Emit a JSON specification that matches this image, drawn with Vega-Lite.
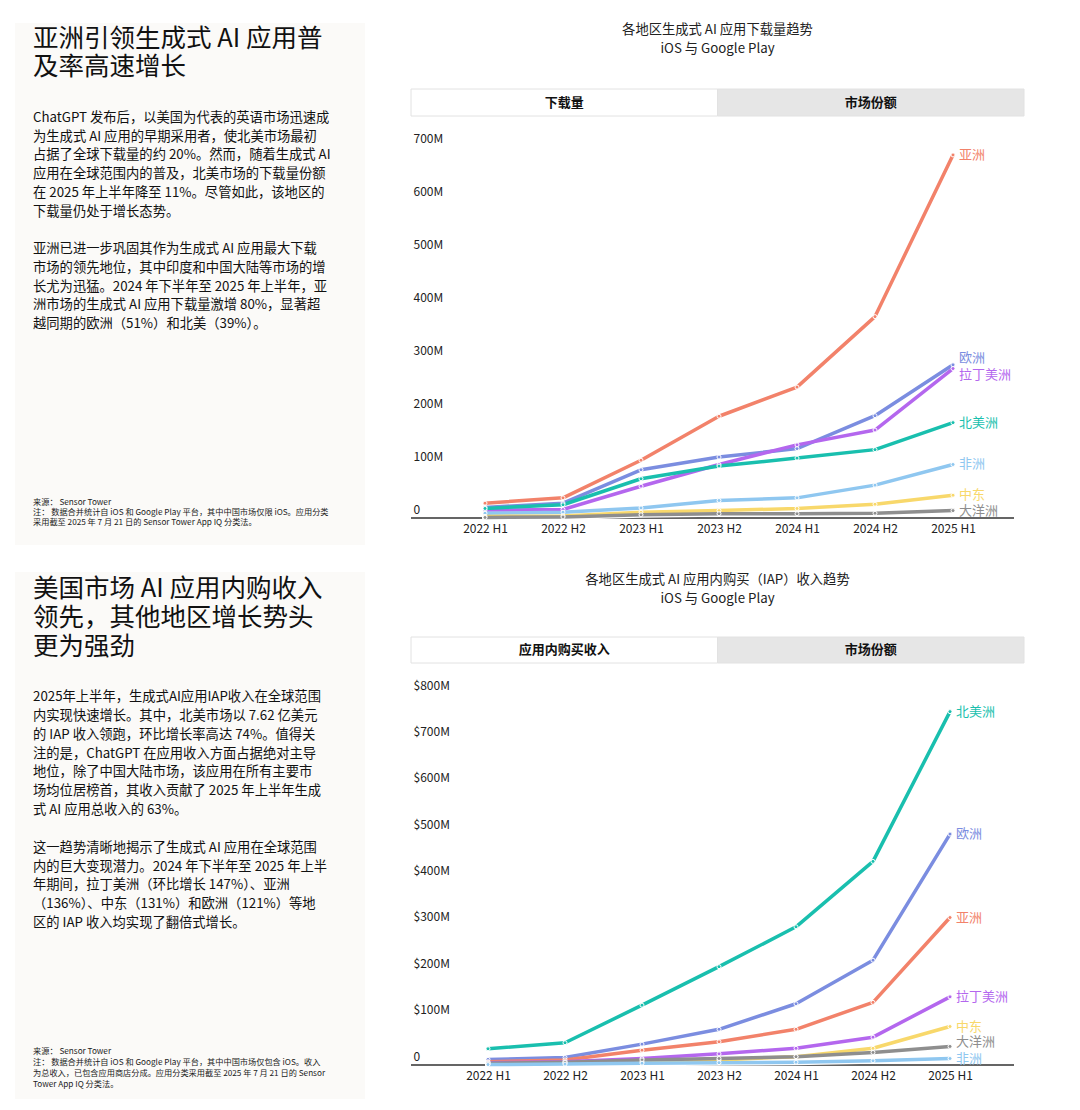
{
  "$schema": "https://vega.github.io/schema/vega-lite/v6.json",
  "background": "white",
  "padding": {"left": 15, "top": 23, "right": 0, "bottom": 0},
  "spacing": 27,
  "config": {
    "font": "Noto Sans CJK SC",
    "view": {"stroke": null},
    "axis": {"labelFont": "Noto Sans CJK SC"}
  },
  "datasets": {
    "downloads": [
      {"period": "2022 H1", "region": "亚洲", "downloads": 28},
      {"period": "2022 H2", "region": "亚洲", "downloads": 38},
      {"period": "2023 H1", "region": "亚洲", "downloads": 109},
      {"period": "2023 H2", "region": "亚洲", "downloads": 192},
      {"period": "2024 H1", "region": "亚洲", "downloads": 247},
      {"period": "2024 H2", "region": "亚洲", "downloads": 380},
      {"period": "2025 H1", "region": "亚洲", "downloads": 685},
      {"period": "2022 H1", "region": "欧洲", "downloads": 20},
      {"period": "2022 H2", "region": "欧洲", "downloads": 28},
      {"period": "2023 H1", "region": "欧洲", "downloads": 91},
      {"period": "2023 H2", "region": "欧洲", "downloads": 115},
      {"period": "2024 H1", "region": "欧洲", "downloads": 131},
      {"period": "2024 H2", "region": "欧洲", "downloads": 193},
      {"period": "2025 H1", "region": "欧洲", "downloads": 289},
      {"period": "2022 H1", "region": "拉丁美洲", "downloads": 15},
      {"period": "2022 H2", "region": "拉丁美洲", "downloads": 16},
      {"period": "2023 H1", "region": "拉丁美洲", "downloads": 60},
      {"period": "2023 H2", "region": "拉丁美洲", "downloads": 101},
      {"period": "2024 H1", "region": "拉丁美洲", "downloads": 138},
      {"period": "2024 H2", "region": "拉丁美洲", "downloads": 166},
      {"period": "2025 H1", "region": "拉丁美洲", "downloads": 282},
      {"period": "2022 H1", "region": "北美洲", "downloads": 18},
      {"period": "2022 H2", "region": "北美洲", "downloads": 25},
      {"period": "2023 H1", "region": "北美洲", "downloads": 74},
      {"period": "2023 H2", "region": "北美洲", "downloads": 98},
      {"period": "2024 H1", "region": "北美洲", "downloads": 113},
      {"period": "2024 H2", "region": "北美洲", "downloads": 129},
      {"period": "2025 H1", "region": "北美洲", "downloads": 180},
      {"period": "2022 H1", "region": "非洲", "downloads": 9},
      {"period": "2022 H2", "region": "非洲", "downloads": 11},
      {"period": "2023 H1", "region": "非洲", "downloads": 19},
      {"period": "2023 H2", "region": "非洲", "downloads": 33},
      {"period": "2024 H1", "region": "非洲", "downloads": 38},
      {"period": "2024 H2", "region": "非洲", "downloads": 62},
      {"period": "2025 H1", "region": "非洲", "downloads": 101},
      {"period": "2022 H1", "region": "中东", "downloads": 3},
      {"period": "2022 H2", "region": "中东", "downloads": 4},
      {"period": "2023 H1", "region": "中东", "downloads": 11},
      {"period": "2023 H2", "region": "中东", "downloads": 14},
      {"period": "2024 H1", "region": "中东", "downloads": 18},
      {"period": "2024 H2", "region": "中东", "downloads": 26},
      {"period": "2025 H1", "region": "中东", "downloads": 43},
      {"period": "2022 H1", "region": "大洋洲", "downloads": 1},
      {"period": "2022 H2", "region": "大洋洲", "downloads": 2},
      {"period": "2023 H1", "region": "大洋洲", "downloads": 6},
      {"period": "2023 H2", "region": "大洋洲", "downloads": 8},
      {"period": "2024 H1", "region": "大洋洲", "downloads": 8},
      {"period": "2024 H2", "region": "大洋洲", "downloads": 9},
      {"period": "2025 H1", "region": "大洋洲", "downloads": 14}
    ],
    "iap": [
      {"period": "2022 H1", "region": "北美洲", "revenue": 35},
      {"period": "2022 H2", "region": "北美洲", "revenue": 48},
      {"period": "2023 H1", "region": "北美洲", "revenue": 129},
      {"period": "2023 H2", "region": "北美洲", "revenue": 212},
      {"period": "2024 H1", "region": "北美洲", "revenue": 298},
      {"period": "2024 H2", "region": "北美洲", "revenue": 439},
      {"period": "2025 H1", "region": "北美洲", "revenue": 762},
      {"period": "2022 H1", "region": "欧洲", "revenue": 12},
      {"period": "2022 H2", "region": "欧洲", "revenue": 16},
      {"period": "2023 H1", "region": "欧洲", "revenue": 45},
      {"period": "2023 H2", "region": "欧洲", "revenue": 77},
      {"period": "2024 H1", "region": "欧洲", "revenue": 132},
      {"period": "2024 H2", "region": "欧洲", "revenue": 226},
      {"period": "2025 H1", "region": "欧洲", "revenue": 498},
      {"period": "2022 H1", "region": "亚洲", "revenue": 7},
      {"period": "2022 H2", "region": "亚洲", "revenue": 11},
      {"period": "2023 H1", "region": "亚洲", "revenue": 32},
      {"period": "2023 H2", "region": "亚洲", "revenue": 50},
      {"period": "2024 H1", "region": "亚洲", "revenue": 77},
      {"period": "2024 H2", "region": "亚洲", "revenue": 135},
      {"period": "2025 H1", "region": "亚洲", "revenue": 318},
      {"period": "2022 H1", "region": "拉丁美洲", "revenue": 5},
      {"period": "2022 H2", "region": "拉丁美洲", "revenue": 7},
      {"period": "2023 H1", "region": "拉丁美洲", "revenue": 14},
      {"period": "2023 H2", "region": "拉丁美洲", "revenue": 24},
      {"period": "2024 H1", "region": "拉丁美洲", "revenue": 36},
      {"period": "2024 H2", "region": "拉丁美洲", "revenue": 60},
      {"period": "2025 H1", "region": "拉丁美洲", "revenue": 147},
      {"period": "2022 H1", "region": "中东", "revenue": 2},
      {"period": "2022 H2", "region": "中东", "revenue": 4},
      {"period": "2023 H1", "region": "中东", "revenue": 7},
      {"period": "2023 H2", "region": "中东", "revenue": 11},
      {"period": "2024 H1", "region": "中东", "revenue": 18},
      {"period": "2024 H2", "region": "中东", "revenue": 36},
      {"period": "2025 H1", "region": "中东", "revenue": 83},
      {"period": "2022 H1", "region": "大洋洲", "revenue": 4},
      {"period": "2022 H2", "region": "大洋洲", "revenue": 6},
      {"period": "2023 H1", "region": "大洋洲", "revenue": 11},
      {"period": "2023 H2", "region": "大洋洲", "revenue": 14},
      {"period": "2024 H1", "region": "大洋洲", "revenue": 18},
      {"period": "2024 H2", "region": "大洋洲", "revenue": 27},
      {"period": "2025 H1", "region": "大洋洲", "revenue": 40},
      {"period": "2022 H1", "region": "非洲", "revenue": 1},
      {"period": "2022 H2", "region": "非洲", "revenue": 2},
      {"period": "2023 H1", "region": "非洲", "revenue": 4},
      {"period": "2023 H2", "region": "非洲", "revenue": 5},
      {"period": "2024 H1", "region": "非洲", "revenue": 6},
      {"period": "2024 H2", "region": "非洲", "revenue": 9},
      {"period": "2025 H1", "region": "非洲", "revenue": 14}
    ],
    "intro_downloads": [
      {"part": "heading", "line": 1, "text": "亚洲引领生成式 AI 应用普"},
      {"part": "heading", "line": 2, "text": "及率高速增长"},
      {"part": "body", "line": 1, "text": "ChatGPT 发布后，以美国为代表的英语市场迅速成"},
      {"part": "body", "line": 2, "text": "为生成式 AI 应用的早期采用者，使北美市场最初"},
      {"part": "body", "line": 3, "text": "占据了全球下载量的约 20%。然而，随着生成式 AI"},
      {"part": "body", "line": 4, "text": "应用在全球范围内的普及，北美市场的下载量份额"},
      {"part": "body", "line": 5, "text": "在 2025 年上半年降至 11%。尽管如此，该地区的"},
      {"part": "body", "line": 6, "text": "下载量仍处于增长态势。"},
      {"part": "body", "line": 8, "text": "亚洲已进一步巩固其作为生成式 AI 应用最大下载"},
      {"part": "body", "line": 9, "text": "市场的领先地位，其中印度和中国大陆等市场的增"},
      {"part": "body", "line": 10, "text": "长尤为迅猛。2024 年下半年至 2025 年上半年，亚"},
      {"part": "body", "line": 11, "text": "洲市场的生成式 AI 应用下载量激增 80%，显著超"},
      {"part": "body", "line": 12, "text": "越同期的欧洲（51%）和北美（39%）。"},
      {"part": "note", "line": 1, "text": "来源： Sensor Tower"},
      {"part": "note", "line": 2, "text": "注： 数据合并统计自 iOS 和 Google Play 平台，其中中国市场仅限 iOS。应用分类"},
      {"part": "note", "line": 3, "text": "采用截至 2025 年 7 月 21 日的 Sensor Tower App IQ 分类法。"}
    ],
    "intro_iap": [
      {"part": "heading", "line": 1, "text": "美国市场 AI 应用内购收入"},
      {"part": "heading", "line": 2, "text": "领先，其他地区增长势头"},
      {"part": "heading", "line": 3, "text": "更为强劲"},
      {"part": "body", "line": 1, "text": "2025年上半年，生成式AI应用IAP收入在全球范围"},
      {"part": "body", "line": 2, "text": "内实现快速增长。其中，北美市场以 7.62 亿美元"},
      {"part": "body", "line": 3, "text": "的 IAP 收入领跑，环比增长率高达 74%。值得关"},
      {"part": "body", "line": 4, "text": "注的是，ChatGPT 在应用收入方面占据绝对主导"},
      {"part": "body", "line": 5, "text": "地位，除了中国大陆市场，该应用在所有主要市"},
      {"part": "body", "line": 6, "text": "场均位居榜首，其收入贡献了 2025 年上半年生成"},
      {"part": "body", "line": 7, "text": "式 AI 应用总收入的 63%。"},
      {"part": "body", "line": 9, "text": "这一趋势清晰地揭示了生成式 AI 应用在全球范围"},
      {"part": "body", "line": 10, "text": "内的巨大变现潜力。2024 年下半年至 2025 年上半"},
      {"part": "body", "line": 11, "text": "年期间，拉丁美洲（环比增长 147%）、亚洲"},
      {"part": "body", "line": 12, "text": "（136%）、中东（131%）和欧洲（121%）等地"},
      {"part": "body", "line": 13, "text": "区的 IAP 收入均实现了翻倍式增长。"},
      {"part": "note", "line": 1, "text": "来源： Sensor Tower"},
      {"part": "note", "line": 2, "text": "注： 数据合并统计自 iOS 和 Google Play 平台，其中中国市场仅包含 iOS。收入"},
      {"part": "note", "line": 3, "text": "为总收入，已包含应用商店分成。应用分类采用截至 2025 年 7 月 21 日的 Sensor"},
      {"part": "note", "line": 4, "text": "Tower App IQ 分类法。"}
    ]
  },
  "vconcat": [
    {
      "spacing": 45,
      "hconcat": [
        {
          "width": 350,
          "height": 522,
          "view": {"fill": "#fbfaf8", "stroke": null},
          "data": {"name": "intro_downloads"},
          "encoding": {
            "x": {"datum": 0, "type": "quantitative", "scale": {"domain": [0, 1], "range": [18, 350]}, "axis": null},
            "text": {"field": "text", "type": "nominal"}
          },
          "layer": [
            {
              "transform": [{"filter": "datum.part == 'heading'"}],
              "mark": {"type": "text", "align": "left", "baseline": "middle", "fontSize": 25.5, "color": "#111"},
              "encoding": {"y": {"field": "line", "type": "quantitative", "scale": {"domain": [1, 2], "range": [16, 44]}, "axis": null}}
            },
            {
              "transform": [{"filter": "datum.part == 'body'"}],
              "mark": {"type": "text", "align": "left", "baseline": "middle", "fontSize": 13.3, "color": "#111"},
              "encoding": {"y": {"field": "line", "type": "quantitative", "scale": {"domain": [1, 12], "range": [95, 301]}, "axis": null}}
            },
            {
              "transform": [{"filter": "datum.part == 'note'"}],
              "mark": {"type": "text", "align": "left", "baseline": "middle", "fontSize": 8.2, "color": "#222"},
              "encoding": {"y": {"field": "line", "type": "quantitative", "scale": {"domain": [1, 3], "range": [480, 500]}, "axis": null}}
            }
          ],
          "resolve": {"scale": {"y": "independent"}}
        },
        {
          "spacing": 15,
          "vconcat": [
            {
              "width": 613,
              "height": 50,
              "data": {"values": [{"line": 1, "text": "各地区生成式 AI 应用下载量趋势"}, {"line": 2, "text": "iOS 与 Google Play"}]},
              "mark": {"type": "text", "align": "center", "baseline": "middle", "fontSize": 13.3, "color": "#222"},
              "encoding": {
                "x": {"datum": 0.5, "type": "quantitative", "scale": {"domain": [0, 1]}, "axis": null},
                "y": {"field": "line", "type": "quantitative", "scale": {"domain": [1, 2], "range": [7, 26]}, "axis": null},
                "text": {"field": "text", "type": "nominal"}
              }
            },
            {
              "width": 613,
              "height": 27,
              "data": {"values": [{"tab": "下载量", "active": true}, {"tab": "市场份额", "active": false}]},
              "encoding": {
                "x": {"field": "tab", "type": "nominal", "sort": null, "scale": {"type": "band", "paddingInner": 0, "paddingOuter": 0}, "axis": null}
              },
              "layer": [
                {
                  "mark": {"type": "rect", "stroke": "#e2e2e2", "strokeWidth": 1},
                  "encoding": {"fill": {"condition": {"test": "datum.active", "value": "#ffffff"}, "value": "#e6e6e6"}}
                },
                {
                  "mark": {"type": "text", "fontSize": 13, "fontWeight": "bold", "color": "#111"},
                  "encoding": {"text": {"field": "tab", "type": "nominal"}}
                }
              ]
            },
            {
              "width": 603,
              "height": 371,
              "data": {"name": "downloads"},
              "layer": [
                {
                  "mark": {"type": "rule", "color": "#666666", "strokeWidth": 1.5},
                  "encoding": {"y": {"datum": 0, "type": "quantitative"}}
                },
                {
                  "encoding": {
                    "x": {
                      "field": "period", "type": "ordinal",
                      "scale": {"type": "point", "padding": 0, "range": [74, 542]},
                      "axis": {"title": null, "domain": false, "ticks": false, "grid": false, "labelAngle": 0, "labelPadding": 5, "labelFontSize": 12, "labelColor": "#222"}
                    },
                    "y": {
                      "field": "downloads", "type": "quantitative",
                      "scale": {"domain": [0, 700], "nice": false},
                      "axis": {
                        "title": null, "domain": false, "ticks": false,
                        "values": [0, 100, 200, 300, 400, 500, 600, 700],
                        "gridColor": "#ececec", "gridWidth": 1,
                        "labelAlign": "left", "labelBaseline": "bottom", "labelPadding": -2, "labelOffset": -2,
                        "labelFlush": false, "labelFontSize": 12, "labelColor": "#222",
                        "labelExpr": "datum.value == 0 ? '0' : datum.value + 'M'"
                      }
                    },
                    "color": {
                      "field": "region", "type": "nominal",
                      "scale": {
                        "domain": ["亚洲", "欧洲", "拉丁美洲", "北美洲", "非洲", "中东", "大洋洲"],
                        "range": ["#f2826a", "#7b8de0", "#b467ee", "#19bfae", "#8fc7f0", "#f8d86b", "#8e8e8e"]
                      },
                      "legend": null
                    }
                  },
                  "layer": [
                    {
                      "mark": {"type": "line", "strokeWidth": 6, "strokeCap": "round", "strokeJoin": "round"},
                      "encoding": {"color": {"value": "#ffffff"}, "detail": {"field": "region", "type": "nominal"}}
                    },
                    {
                      "mark": {"type": "line", "strokeWidth": 3.5, "strokeCap": "round", "strokeJoin": "round"}
                    },
                    {
                      "mark": {"type": "point", "filled": true, "size": 16, "stroke": "#ffffff", "strokeWidth": 1, "opacity": 1}
                    },
                    {
                      "transform": [{"filter": "datum.period == '2025 H1' && datum.region != '欧洲' && datum.region != '拉丁美洲'"}],
                      "mark": {"type": "text", "align": "left", "baseline": "middle", "dx": 6, "fontSize": 13},
                      "encoding": {"text": {"field": "region", "type": "nominal"}}
                    },
                    {
                      "transform": [{"filter": "datum.period == '2025 H1' && datum.region == '欧洲'"}],
                      "mark": {"type": "text", "align": "left", "baseline": "middle", "dx": 6, "dy": -7, "fontSize": 13},
                      "encoding": {"text": {"field": "region", "type": "nominal"}}
                    },
                    {
                      "transform": [{"filter": "datum.period == '2025 H1' && datum.region == '拉丁美洲'"}],
                      "mark": {"type": "text", "align": "left", "baseline": "middle", "dx": 6, "dy": 6, "fontSize": 13},
                      "encoding": {"text": {"field": "region", "type": "nominal"}}
                    }
                  ]
                }
              ]
            }
          ]
        }
      ]
    },
    {
      "spacing": 45,
      "hconcat": [
        {
          "width": 350,
          "height": 527,
          "view": {"fill": "#fbfaf8", "stroke": null},
          "data": {"name": "intro_iap"},
          "encoding": {
            "x": {"datum": 0, "type": "quantitative", "scale": {"domain": [0, 1], "range": [18, 350]}, "axis": null},
            "text": {"field": "text", "type": "nominal"}
          },
          "layer": [
            {
              "transform": [{"filter": "datum.part == 'heading'"}],
              "mark": {"type": "text", "align": "left", "baseline": "middle", "fontSize": 25.5, "color": "#111"},
              "encoding": {"y": {"field": "line", "type": "quantitative", "scale": {"domain": [1, 3], "range": [17, 75]}, "axis": null}}
            },
            {
              "transform": [{"filter": "datum.part == 'body'"}],
              "mark": {"type": "text", "align": "left", "baseline": "middle", "fontSize": 13.3, "color": "#111"},
              "encoding": {"y": {"field": "line", "type": "quantitative", "scale": {"domain": [1, 13], "range": [125, 351]}, "axis": null}}
            },
            {
              "transform": [{"filter": "datum.part == 'note'"}],
              "mark": {"type": "text", "align": "left", "baseline": "middle", "fontSize": 8.2, "color": "#222"},
              "encoding": {"y": {"field": "line", "type": "quantitative", "scale": {"domain": [1, 4], "range": [480, 513]}, "axis": null}}
            }
          ],
          "resolve": {"scale": {"y": "independent"}}
        },
        {
          "spacing": 15,
          "vconcat": [
            {
              "width": 613,
              "height": 49,
              "data": {"values": [{"line": 1, "text": "各地区生成式 AI 应用内购买（IAP）收入趋势"}, {"line": 2, "text": "iOS 与 Google Play"}]},
              "mark": {"type": "text", "align": "center", "baseline": "middle", "fontSize": 13.3, "color": "#222"},
              "encoding": {
                "x": {"datum": 0.5, "type": "quantitative", "scale": {"domain": [0, 1]}, "axis": null},
                "y": {"field": "line", "type": "quantitative", "scale": {"domain": [1, 2], "range": [8, 27]}, "axis": null},
                "text": {"field": "text", "type": "nominal"}
              }
            },
            {
              "width": 613,
              "height": 26,
              "data": {"values": [{"tab": "应用内购买收入", "active": true}, {"tab": "市场份额", "active": false}]},
              "encoding": {
                "x": {"field": "tab", "type": "nominal", "sort": null, "scale": {"type": "band", "paddingInner": 0, "paddingOuter": 0}, "axis": null}
              },
              "layer": [
                {
                  "mark": {"type": "rect", "stroke": "#e2e2e2", "strokeWidth": 1},
                  "encoding": {"fill": {"condition": {"test": "datum.active", "value": "#ffffff"}, "value": "#e6e6e6"}}
                },
                {
                  "mark": {"type": "text", "fontSize": 13, "fontWeight": "bold", "color": "#111"},
                  "encoding": {"text": {"field": "tab", "type": "nominal"}}
                }
              ]
            },
            {
              "width": 603,
              "height": 371,
              "data": {"name": "iap"},
              "layer": [
                {
                  "mark": {"type": "rule", "color": "#666666", "strokeWidth": 1.5},
                  "encoding": {"y": {"datum": 0, "type": "quantitative"}}
                },
                {
                  "encoding": {
                    "x": {
                      "field": "period", "type": "ordinal",
                      "scale": {"type": "point", "padding": 0, "range": [77, 539]},
                      "axis": {"title": null, "domain": false, "ticks": false, "grid": false, "labelAngle": 0, "labelPadding": 5, "labelFontSize": 12, "labelColor": "#222"}
                    },
                    "y": {
                      "field": "revenue", "type": "quantitative",
                      "scale": {"domain": [0, 800], "nice": false},
                      "axis": {
                        "title": null, "domain": false, "ticks": false,
                        "values": [0, 100, 200, 300, 400, 500, 600, 700, 800],
                        "gridColor": "#ececec", "gridWidth": 1,
                        "labelAlign": "left", "labelBaseline": "bottom", "labelPadding": -2, "labelOffset": -2,
                        "labelFlush": false, "labelFontSize": 12, "labelColor": "#222",
                        "labelExpr": "datum.value == 0 ? '0' : '$' + datum.value + 'M'"
                      }
                    },
                    "color": {
                      "field": "region", "type": "nominal",
                      "scale": {
                        "domain": ["北美洲", "欧洲", "亚洲", "拉丁美洲", "中东", "大洋洲", "非洲"],
                        "range": ["#19bfae", "#7b8de0", "#f2826a", "#b467ee", "#f8d86b", "#8e8e8e", "#8fc7f0"]
                      },
                      "legend": null
                    }
                  },
                  "layer": [
                    {
                      "mark": {"type": "line", "strokeWidth": 6, "strokeCap": "round", "strokeJoin": "round"},
                      "encoding": {"color": {"value": "#ffffff"}, "detail": {"field": "region", "type": "nominal"}}
                    },
                    {
                      "mark": {"type": "line", "strokeWidth": 3.5, "strokeCap": "round", "strokeJoin": "round"}
                    },
                    {
                      "mark": {"type": "point", "filled": true, "size": 16, "stroke": "#ffffff", "strokeWidth": 1, "opacity": 1}
                    },
                    {
                      "transform": [{"filter": "datum.period == '2025 H1' && datum.region != '大洋洲'"}],
                      "mark": {"type": "text", "align": "left", "baseline": "middle", "dx": 6, "fontSize": 13},
                      "encoding": {"text": {"field": "region", "type": "nominal"}}
                    },
                    {
                      "transform": [{"filter": "datum.period == '2025 H1' && datum.region == '大洋洲'"}],
                      "mark": {"type": "text", "align": "left", "baseline": "middle", "dx": 6, "dy": -4, "fontSize": 13},
                      "encoding": {"text": {"field": "region", "type": "nominal"}}
                    }
                  ]
                }
              ]
            }
          ]
        }
      ]
    }
  ]
}
